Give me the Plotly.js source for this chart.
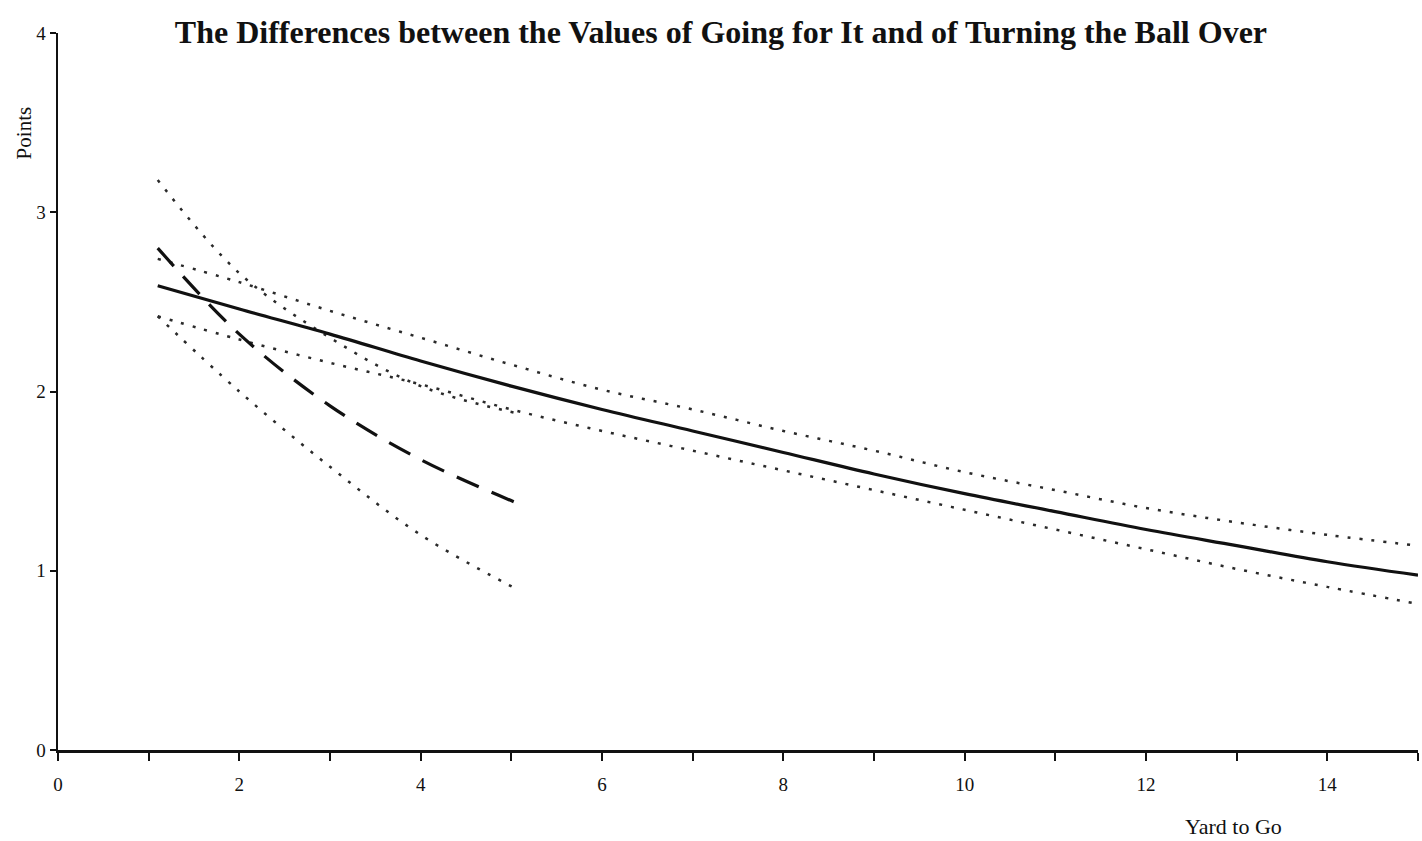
<!DOCTYPE html>
<html>
<head>
<meta charset="utf-8">
<script src="https://cdn.plot.ly/plotly-3.0.1.min.js"></script>
<style>html,body{margin:0;padding:0;background:#fff;}#chart{width:1422px;height:841px;}</style>
</head>
<body>
<div id="chart"></div>
<script>
// Long-range curve (solid) and its bands
const xLong = [1.1, 2, 3, 4, 5, 6, 7, 8, 9, 10, 11, 12, 13, 14, 15];
const solidVals = [2.59, 2.46, 2.32, 2.17, 2.03, 1.90, 1.78, 1.66, 1.54, 1.43, 1.33, 1.23, 1.14, 1.05, 0.975];
const solidUpper = [2.74, 2.61, 2.45, 2.30, 2.15, 2.01, 1.90, 1.78, 1.67, 1.55, 1.45, 1.35, 1.27, 1.20, 1.14];
const solidLower = [2.42, 2.29, 2.16, 2.04, 1.90, 1.78, 1.67, 1.56, 1.45, 1.34, 1.23, 1.12, 1.01, 0.91, 0.815];

// Short-range curve (dashed) and its bands
const xShort = [1.1, 2, 3, 4, 5.05];
const dashedVals = [2.80, 2.32, 1.92, 1.62, 1.38];
const dashedUpper = [3.18, 2.66, 2.30, 2.03, 1.88];
const dashedLower = [2.42, 2.00, 1.58, 1.20, 0.90];

const xTickVals = [0, 1, 2, 3, 4, 5, 6, 7, 8, 9, 10, 11, 12, 13, 14, 15];
const xTickText = ['0', '', '2', '', '4', '', '6', '', '8', '', '10', '', '12', '', '14', ''];
const yTickVals = [0, 1, 2, 3, 4];

const dotLine = {color: '#2a2a2a', width: 2.5, dash: '3px,9px', shape: 'spline'};

const traces = [
  {x: xLong, y: solidUpper, mode: 'lines', line: dotLine},
  {x: xLong, y: solidLower, mode: 'lines', line: dotLine},
  {x: xShort, y: dashedUpper, mode: 'lines', line: dotLine},
  {x: xShort, y: dashedLower, mode: 'lines', line: dotLine},
  {x: xLong, y: solidVals, mode: 'lines', line: {color: '#111', width: 3.2, shape: 'spline'}},
  {x: xShort, y: dashedVals, mode: 'lines', line: {color: '#111', width: 3.2, dash: '24px,14px', shape: 'spline'}}
];

const serif = 'Liberation Serif, Times New Roman, serif';

const layout = {
  width: 1422, height: 841,
  paper_bgcolor: '#fff', plot_bgcolor: '#fff',
  showlegend: false,
  margin: {l: 58, r: 4, t: 33, b: 91},
  title: {text: '<b>The Differences between the Values of Going for It and of Turning the Ball Over</b>',
          font: {family: serif, size: 32, color: '#111'}, x: 0.507, xanchor: 'center', y: 0.962, yanchor: 'middle'},
  xaxis: {range: [0, 15], tickvals: xTickVals, ticktext: xTickText, ticks: 'outside', ticklen: 8, tickwidth: 2,
          tickcolor: '#111', showline: true, linecolor: '#111', linewidth: 2.5, showgrid: false, zeroline: false,
          ticklabelstandoff: 8,
          tickfont: {family: serif, size: 19, color: '#111'}, fixedrange: true},
  yaxis: {range: [0, 4], tickvals: yTickVals, ticks: 'outside', ticklen: 6, tickwidth: 2, tickcolor: '#111',
          showline: true, linecolor: '#111', linewidth: 2.5, showgrid: false, zeroline: false,
          tickfont: {family: serif, size: 19, color: '#111'}, fixedrange: true},
  annotations: [
    {text: 'Points', xref: 'paper', yref: 'paper', x: -0.025, y: 0.86, showarrow: false, textangle: -90,
     font: {family: serif, size: 21, color: '#111'}, xanchor: 'center', yanchor: 'middle'},
    {text: 'Yard to Go', xref: 'paper', yref: 'paper', x: 0.864, y: -0.107, showarrow: false,
     font: {family: serif, size: 22, color: '#111'}, xanchor: 'center', yanchor: 'middle'}
  ]
};

Plotly.newPlot('chart', traces, layout, {displayModeBar: false, staticPlot: true});
</script>
</body>
</html>
